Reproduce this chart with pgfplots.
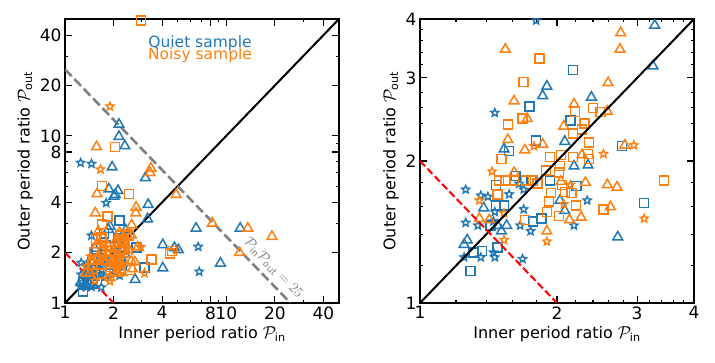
\documentclass[border=0pt]{standalone}
\usepackage{amsmath}
\usepackage{fontspec}
\setmainfont{DejaVu Sans}
\usepackage{pgfplots}
\pgfplotsset{compat=1.18}
\usepackage{pgfplotstable}

\definecolor{cblue}{HTML}{1F77B4}
\definecolor{corange}{HTML}{FF7F0E}

\pgfdeclareplotmark{ostar}{%
 \pgfpathmoveto{\pgfpointpolar{90}{\pgfplotmarksize}}%
 \pgfpathlineto{\pgfpointpolar{126}{0.45\pgfplotmarksize}}%
 \pgfpathlineto{\pgfpointpolar{162}{\pgfplotmarksize}}%
 \pgfpathlineto{\pgfpointpolar{198}{0.45\pgfplotmarksize}}%
 \pgfpathlineto{\pgfpointpolar{234}{\pgfplotmarksize}}%
 \pgfpathlineto{\pgfpointpolar{270}{0.45\pgfplotmarksize}}%
 \pgfpathlineto{\pgfpointpolar{306}{\pgfplotmarksize}}%
 \pgfpathlineto{\pgfpointpolar{342}{0.45\pgfplotmarksize}}%
 \pgfpathlineto{\pgfpointpolar{18}{\pgfplotmarksize}}%
 \pgfpathlineto{\pgfpointpolar{54}{0.45\pgfplotmarksize}}%
 \pgfpathclose
 \pgfusepathqstroke
}

% Quiet sample (blue)
\pgfplotstableread{
x y
3.28 3.88
3.25 3.18
1.90 2.88
1.86 2.75
2.38 2.73
2.08 2.20
1.53 2.12
2.18 1.95
2.34 1.96
1.38 1.59
2.03 1.65
2.08 1.57
1.48 1.46
1.51 1.42
1.55 1.46
2.72 1.38
1.27 1.36
1.25 1.33
2.16 11.7
2.16 9.9
2.35 8.7
1.96 6.5
3.15 5.6
1.87 4.8
2.13 4.7
2.05 4.45
2.01 4.35
6.5 2.8
12.2 2.8
4.04 2.23
4.77 2.14
5.05 2.08
4.04 1.62
9.2 1.73
}\btri
\pgfplotstableread{
x y
2.17 3.12
1.74 2.61
2.14 2.44
1.80 2.21
1.57 2.10
2.78 2.15
1.93 1.82
1.62 1.86
1.47 1.78
1.76 1.82
2.21 1.77
3.11 1.63
1.47 1.61
1.53 1.61
1.43 1.46
1.77 1.49
1.85 1.51
1.31 1.28
1.37 1.29
1.48 1.31
1.29 1.17
}\bsq
\pgfplotstableread{
x y
1.80 3.97
1.46 2.53
1.65 1.79
1.69 1.74
1.26 1.74
1.36 1.69
1.41 1.68
1.57 1.70
2.33 1.65
1.69 1.58
1.46 1.56
1.26 1.48
1.34 1.46
1.45 1.49
1.66 1.46
2.18 1.46
1.75 1.42
1.25 1.25
1.36 1.25
1.46 1.25
1.45 1.28
1.68 1.24
1.25 6.9
1.46 6.8
6.7 2.17
6.8 1.54
}\bstar
% Noisy sample (orange)
\pgfplotstableread{
x y
2.76 3.74
1.54 3.45
2.75 3.45
2.59 2.93
1.61 2.68
2.18 2.64
2.58 2.55
1.72 2.46
2.07 2.37
1.56 2.22
1.86 2.17
1.70 2.11
2.82 2.16
2.27 2.06
1.61 1.89
2.04 1.81
2.31 1.80
2.58 1.78
2.71 1.76
2.62 1.60
1.35 1.51
1.42 1.50
2.13 1.50
2.26 1.52
1.90 1.42
1.57 8.6
3.41 6.4
3.37 6.0
1.58 4.5
4.89 4.45
8.2 3.0
13.6 2.8
19.2 2.5
12.1 2.0
}\otri
\pgfplotstableread{
x y
1.83 3.30
1.69 2.94
2.40 2.59
2.19 2.54
2.49 2.54
1.68 2.46
2.30 2.40
1.56 2.39
2.27 2.33
2.17 2.29
2.35 2.19
1.51 2.02
1.93 2.04
2.04 2.06
2.17 2.04
2.34 2.07
2.35 2.02
1.89 1.91
2.03 1.95
2.02 1.89
1.49 1.82
1.54 1.82
1.61 1.82
1.71 1.82
1.77 1.82
1.81 1.79
2.05 1.78
1.48 1.70
1.94 1.71
3.44 1.82
1.92 1.64
2.20 1.61
2.53 1.58
1.70 1.50
1.90 1.56
2.02 1.53
2.08 1.72
2.15 1.71
2.95 49
2.04 8.6
1.70 5.0
2.49 4.5
4.49 1.98
4.60 2.05
}\osq
\pgfplotstableread{
x y
1.78 2.15
2.95 2.16
2.53 2.07
1.44 1.90
2.14 1.78
1.35 1.65
2.07 1.62
1.53 1.55
3.11 1.51
1.53 1.36
1.90 1.35
1.90 15.0
1.66 6.3
}\ostar

\pgfplotsset{
 mytri/.style={only marks, mark=triangle, mark size=5.6pt, mark options={solid, fill=none, line width=1.5pt}},
 mysq/.style={only marks, mark=square, mark size=4.5pt, mark options={solid, fill=none, line width=1.5pt}},
 myst/.style={only marks, mark=ostar, mark size=4.2pt, mark options={solid, fill=none, line width=1.4pt}},
}

\begin{document}
\begin{tikzpicture}
\path[use as bounding box] (0,0) rectangle (715pt,363pt);
% left panel
\begin{axis}[xmode=log, ymode=log, scale only axis, width=274pt, height=284pt,
  axis line style={line width=1.2pt},
  every tick/.style={line width=1.1pt, black},
  tick align=inside, major tick length=7pt, minor tick length=3.5pt,
  tick label style={font=\fontsize{17}{17}\selectfont},
  label style={font=\fontsize{16}{19}\selectfont},
  xlabel={Inner period ratio $\mathcal{P}_{\text{in}}$},
  ylabel={Outer period ratio $\mathcal{P}_{\text{out}}$},
  at={(65pt,60pt)}, anchor=south west,
  xmin=1, xmax=50, ymin=1, ymax=50,
  xtick={1,2,4,8,10,20,40}, xticklabels={1,2,4,8,10,20,40},
  ytick={1,2,4,8,10,20,40}, yticklabels={1,2,4,8,10,20,40},
  minor xtick={3,5,6,7,9,30,50}, minor ytick={3,5,6,7,9,30,50},
]
\addplot[mytri, cblue] table {\btri};
\addplot[mysq, cblue] table {\bsq};
\addplot[myst, cblue] table {\bstar};
\addplot[mytri, corange] table {\otri};
\addplot[mysq, corange] table {\osq};
\addplot[myst, corange] table {\ostar};
\addplot[black, line width=2pt] coordinates {(1,1) (50,50)};
\addplot[gray, line width=2.6pt, dash pattern=on 9.5pt off 4pt] coordinates {(1,25) (25,1)};
\addplot[red, line width=2pt, dash pattern=on 7.4pt off 3.2pt] coordinates {(1,2) (2,1)};
\node[rotate=-46, text=gray, font=\fontsize{13.5}{13.5}\selectfont] at (axis cs:19.6,1.62) {$\mathcal{P}_{\text{in}}\mathcal{P}_{\text{out}}=25$};
\end{axis}
% right panel
\begin{axis}[xmode=log, ymode=log, scale only axis, width=274pt, height=284pt,
  axis line style={line width=1.2pt},
  every tick/.style={line width=1.1pt, black},
  tick align=inside, major tick length=7pt, minor tick length=3.5pt,
  tick label style={font=\fontsize{17}{17}\selectfont},
  label style={font=\fontsize{16}{19}\selectfont},
  xlabel={Inner period ratio $\mathcal{P}_{\text{in}}$},
  ylabel={Outer period ratio $\mathcal{P}_{\text{out}}$},
  at={(420pt,60pt)}, anchor=south west,
  xmin=1, xmax=4, ymin=1, ymax=4, clip marker paths=true,
  xtick={1,2,3,4}, xticklabels={1,2,3,4},
  ytick={1,2,3,4}, yticklabels={1,2,3,4},
  minor xtick={1.2,1.4,1.6,1.8,2.2,2.4,2.6,2.8,3.2,3.4,3.6,3.8},
  minor ytick={1.2,1.4,1.6,1.8,2.2,2.4,2.6,2.8,3.2,3.4,3.6,3.8},
]
\addplot[mytri, cblue] table {\btri};
\addplot[mysq, cblue] table {\bsq};
\addplot[myst, cblue] table {\bstar};
\addplot[mytri, corange] table {\otri};
\addplot[mysq, corange] table {\osq};
\addplot[myst, corange] table {\ostar};
\addplot[black, line width=2pt] coordinates {(1,1) (4,4)};
\addplot[red, line width=2pt, dash pattern=on 7.4pt off 3.2pt] coordinates {(1,2) (2,1)};
\end{axis}
\node[anchor=base, text=cblue, font=\fontsize{15.5}{15.5}\selectfont] at (200pt,315.3pt) {Quiet sample};
\node[anchor=base, text=corange, font=\fontsize{15.5}{15.5}\selectfont] at (200pt,303.7pt) {Noisy sample};
\end{tikzpicture}
\end{document}
